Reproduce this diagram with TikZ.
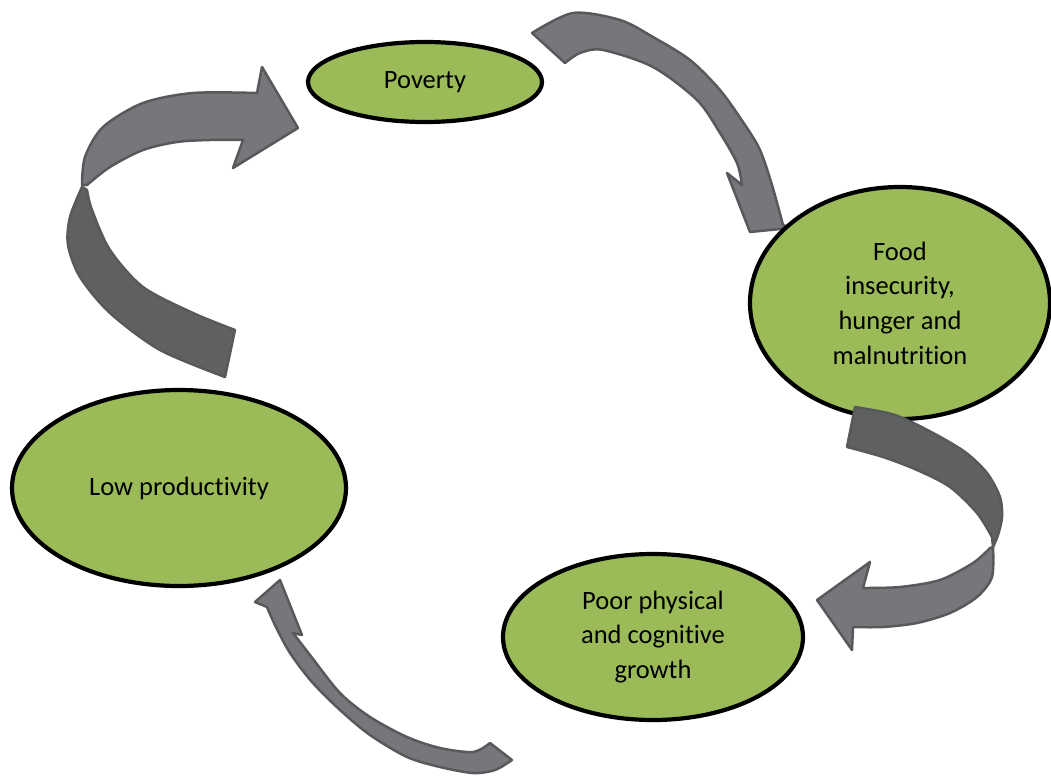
\documentclass[tikz,border=0pt]{standalone}
\usepackage{fontspec}
\setmainfont{Carlito}[Ligatures=NoCommon]
\usetikzlibrary{shapes.geometric}
\definecolor{cyclegreen}{HTML}{9BBB59}
\definecolor{arrowlight}{HTML}{76777B}
\definecolor{arrowdark}{HTML}{5F6062}
\definecolor{arrowedge}{HTML}{58595B}

\begin{document}
\begin{tikzpicture}[x=1pt, y=-1pt,
        stage/.style={ellipse, draw=black, line width=4.2pt, fill=cyclegreen, inner sep=0pt, align=center, font=\fontsize{26.5}{34.7}\selectfont},
        band/.style={draw=arrowedge, line width=2.5pt, line join=round, fill=arrowlight},
        shade/.style={band, fill=arrowdark}
    ]
        \useasboundingbox (0,0) rectangle (1051,776);

        % low productivity -> poverty, twisted ribbon
        \filldraw [shade] plot[smooth] coordinates {(82,187) (70,217) (68,245) (80,277) (110,313) (160,350) (225,377)}
            -- (235,330) -- plot[smooth] coordinates {(235,330) (193,313) (143,287) (110,250) (92,210) (87,190)} -- cycle;
        \filldraw [band] plot[smooth] coordinates {(82,185) (85,157) (103,127) (143,103) (193,93) (257,93)}
            -- (262,67) -- (298,128) -- (233,168) -- (243,140)
            -- plot[smooth] coordinates {(243,140) (210,140) (177,142) (143,150) (110,167) (87,185)} -- cycle;

        % poverty -> food insecurity
        \filldraw [band] plot[smooth] coordinates {(532,33) (573,13) (620,20) (653,37) (690,60) (720,90) (745,125) (760,150) (772,185) (783,225)}
            -- (790,228) -- (750,232) -- (727,173) -- (742,185)
            -- plot[smooth] coordinates {(742,185) (737,163) (720,133) (697,100) (653,67) (603,50) (580,53) (565,63)} -- cycle;

        % poor growth -> low productivity
        \filldraw [band] plot[smooth] coordinates {(512,760) (495,770) (473,773) (440,767) (407,757) (370,735) (340,710) (312,682) (290,653) (275,625) (267,607)}
            -- (255,602) -- (280,580) -- (302,635) -- (293,633)
            -- plot[smooth] coordinates {(293,633) (310,655) (340,693) (370,717) (407,737) (440,748) (473,752) (490,743)} -- cycle;

        \node (poverty) [stage, minimum width=234pt, minimum height=80pt] at (425,82) {Poverty};
        \node (food) [stage, minimum width=300pt, minimum height=232pt] at (900,303) {Food\\insecurity,\\hunger and\\malnutrition};
        \node (growth) [stage, minimum width=300pt, minimum height=166pt] at (653,637) {Poor physical\\and cognitive\\growth};
        \node (lowprod) [stage, minimum width=334pt, minimum height=196pt] at (179,488) {Low productivity};

        % food insecurity -> poor growth, drawn over the ellipse
        \filldraw [shade] plot[smooth] coordinates {(855,407) (895,415) (933,433) (965,452) (987,473) (1000,497) (1002,517) (998,535) (993,547)}
            -- plot[smooth] coordinates {(992,537) (977,513) (950,487) (917,470) (883,457) (847,447)} -- cycle;
        \filldraw [band] plot[smooth] coordinates {(993,547) (992,577) (977,597) (950,613) (917,623) (883,627) (853,627)}
            -- (852,650) -- (817,600) -- (870,562) -- (863,588)
            -- plot[smooth] coordinates {(863,588) (900,587) (940,580) (973,563) (990,548)} -- cycle;
    \end{tikzpicture}
\end{document}
